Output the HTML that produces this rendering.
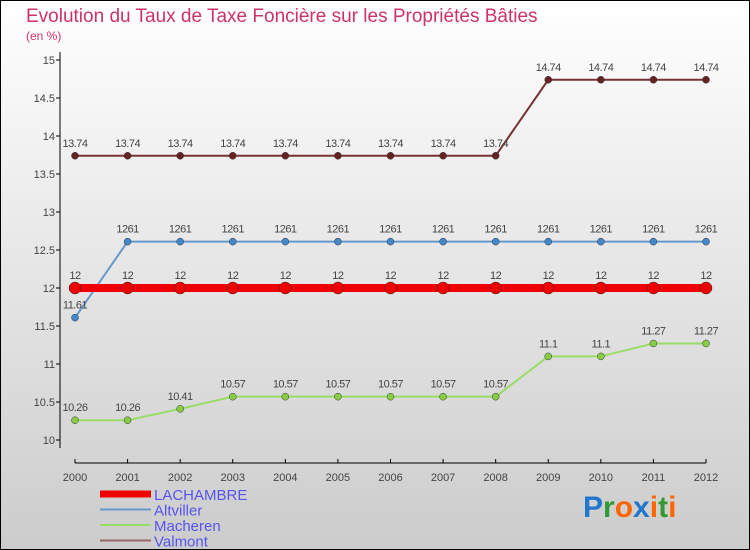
<!DOCTYPE html>
<html><head><meta charset="utf-8"><style>
body{margin:0}
#c{width:750px;height:550px;position:relative;overflow:hidden}
svg text{font-family:"Liberation Sans",sans-serif}
</style></head><body>
<div id="c">
<svg id="s" width="750" height="550" xmlns="http://www.w3.org/2000/svg">
<defs><linearGradient id="bg" x1="0" y1="0" x2="0" y2="1"><stop offset="0" stop-color="#ffffff"/><stop offset="1" stop-color="#cccccc"/></linearGradient></defs>
<rect x="0.5" y="0.5" width="749" height="549" fill="url(#bg)" stroke="#000"/>
<text x="26" y="22" font-size="19" fill="#cc3366">Evolution du Taux de Taxe Foncière sur les Propriétés Bâties</text>
<text x="26" y="40" font-size="12" fill="#cc3366">(en %)</text>
<g id="axes"></g><g id="series"></g><g id="legend"></g>
<g font-size="30" font-weight="bold">
<text x="583" y="517"><tspan fill="#2277cc">P</tspan><tspan fill="#339933">r</tspan><tspan fill="#ff6600">o</tspan><tspan fill="#2277cc">x</tspan><tspan fill="#ff6600">i</tspan><tspan fill="#339933">t</tspan><tspan fill="#ff6600">i</tspan></text>
</g>
</svg></div>
<script>
const years=[2000,2001,2002,2003,2004,2005,2006,2007,2008,2009,2010,2011,2012];
const yTicks=[10,10.5,11,11.5,12,12.5,13,13.5,14,14.5,15];
const lachambre=[12,12,12,12,12,12,12,12,12,12,12,12,12];
const altviller=[11.61,12.61,12.61,12.61,12.61,12.61,12.61,12.61,12.61,12.61,12.61,12.61,12.61];
const macheren=[10.26,10.26,10.41,10.57,10.57,10.57,10.57,10.57,10.57,11.1,11.1,11.27,11.27];
const valmont=[13.74,13.74,13.74,13.74,13.74,13.74,13.74,13.74,13.74,14.74,14.74,14.74,14.74];
const NS="http://www.w3.org/2000/svg";
const xS=i=>75+i*(631/12);
const yS=v=>440-(v-10)*76;
function mk(tag,at,parent){const e=document.createElementNS(NS,tag);for(const k in at)e.setAttribute(k,at[k]);parent.appendChild(e);return e;}
const ax=document.getElementById('axes');
let l=mk('line',{x1:60,y1:52,x2:60,y2:448,stroke:'#000'},ax);


l=mk('line',{x1:75,y1:463,x2:706,y2:463,stroke:'#000'},ax);


yTicks.forEach(v=>{mk('line',{x1:56,y1:yS(v),x2:60,y2:yS(v),stroke:'#000'},ax);
const t=mk('text',{x:55,y:yS(v)+4,'font-size':11,fill:'#444','text-anchor':'end'},ax);t.textContent=String(v);

});
years.forEach((y,i)=>{mk('line',{x1:xS(i),y1:459,x2:xS(i),y2:463,stroke:'#000'},ax);
const t=mk('text',{x:xS(i),y:481,'font-size':11,fill:'#444','text-anchor':'middle'},ax);t.textContent=y;

});
const sg=document.getElementById('series');
function draw(name,vals,color,w,r,dot){
const g=mk('g',{},sg);


mk('polyline',{points:vals.map((v,i)=>xS(i)+','+yS(v)).join(' '),fill:'none',stroke:color,'stroke-width':w},g);
vals.forEach((v,i)=>{const c=mk('circle',{cx:xS(i),cy:yS(v),r:r,fill:dot,stroke:'#333','stroke-width':0.5},g);


const t=mk('text',{x:xS(i),y:yS(v)-9,'font-size':11,fill:'#444','text-anchor':'middle','letter-spacing':'-0.5'},g);
t.textContent=(String(v)==='12.61')?'1261':String(v);

});}
draw('macheren',macheren,'#99dd66',2,3.5,'#88cc44');
draw('altviller',altviller,'#6699cc',2,3.5,'#4488cc');
draw('lachambre',lachambre,'#ee0000',8,6,'#ee0000');
draw('valmont',valmont,'#773333',2,3.5,'#662222');
const lg=document.getElementById('legend');
const items=[['LACHAMBRE','#ee0000',7],['Altviller','#6699cc',2],['Macheren','#99dd66',2],['Valmont','#996666',2]];
items.forEach((it,i)=>{const y=494+i*15.5;
const g=mk('g',{},lg);


mk('line',{x1:100,y1:y,x2:151,y2:y,stroke:it[1],'stroke-width':it[2]},g);
const t=mk('text',{x:154,y:y+6,'font-size':15,fill:'#5555ee'},g);t.textContent=it[0];});
</script>
</body></html>
